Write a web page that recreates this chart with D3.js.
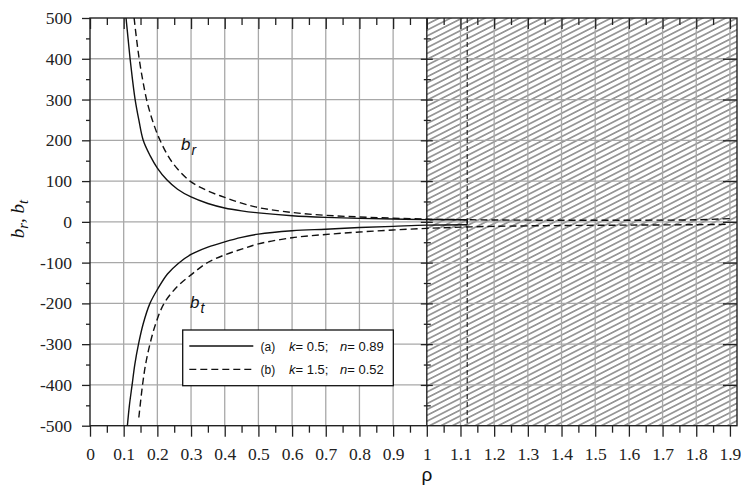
<!DOCTYPE html>
<html><head><meta charset="utf-8">
<script src="https://cdn.jsdelivr.net/npm/d3@7"></script>
<style>body{margin:0;background:#fff}svg{display:block}</style>
</head><body>
<script>
// ---- data ----
const xTickLabels = [0,0.1,0.2,0.3,0.4,0.5,0.6,0.7,0.8,0.9,1,1.1,1.2,1.3,1.4,1.5,1.6,1.7,1.8,1.9];
const yTickLabels = [-500,-400,-300,-200,-100,0,100,200,300,400,500];
const legendLabels = ["(a)", "(b)"];
const legendK = ["0.5", "1.5"];
const legendN = ["0.89", "0.52"];
const hatchStart = 1.0;
const limitRho = 1.12;
// series (a): k=0.5, n=0.89
const aBr = [[0.107,500],[0.113,450],[0.119,400],[0.126,350],[0.134,300],[0.145,250],[0.158,200],[0.178,163],[0.2,132],[0.228,103],[0.26,80],[0.3,61],[0.35,45],[0.4,34],[0.45,27],[0.5,22],[0.6,15],[0.7,11],[0.8,8.5],[0.9,7],[1.0,5.5],[1.12,5]];
const aBt = [[0.111,-500],[0.117,-450],[0.125,-400],[0.133,-350],[0.144,-300],[0.158,-250],[0.178,-200],[0.2,-166],[0.23,-128],[0.262,-102],[0.3,-80],[0.35,-62],[0.4,-49],[0.45,-38],[0.5,-30],[0.6,-22],[0.7,-18],[0.8,-14],[0.9,-11],[1.0,-8],[1.12,-7]];
// series (b): k=1.5, n=0.52
const bBr = [[0.131,500],[0.138,450],[0.146,400],[0.156,350],[0.168,300],[0.185,250],[0.208,200],[0.245,145],[0.297,100],[0.35,76],[0.4,60],[0.45,46],[0.5,35],[0.6,23],[0.7,16],[0.8,12],[0.9,9],[1.0,7],[1.1,5.5],[1.2,4.5],[1.4,4],[1.6,4],[1.8,5],[1.9,8]];
const bBt = [[0.145,-480],[0.156,-400],[0.165,-350],[0.178,-300],[0.195,-250],[0.22,-200],[0.26,-158],[0.3,-130],[0.345,-102],[0.4,-81],[0.45,-67],[0.5,-54],[0.6,-39],[0.7,-31],[0.8,-25],[0.9,-20],[1.0,-16],[1.1,-13],[1.2,-11],[1.4,-9],[1.6,-8],[1.8,-7],[1.9,-6]];

// ---- layout ----
const W = 741, H = 489;
const m = {left: 90, top: 18, right: 4, bottom: 63.3};
const iw = W - m.left - m.right, ih = H - m.top - m.bottom;
const SERIF = "Liberation Serif";
const SANS = "Liberation Sans";
const svg = d3.select("body").append("svg").attr("width", W).attr("height", H);
const x = d3.scaleLinear().domain([0, 1.921]).range([0, iw]);
const y = d3.scaleLinear().domain([-500, 500]).range([ih, 0]);
const g = svg.append("g").attr("transform", `translate(${m.left},${m.top})`);

const defs = svg.append("defs");
const pat = defs.append("pattern").attr("id","hatch").attr("patternUnits","userSpaceOnUse")
  .attr("width", 12).attr("height", 5.2).attr("patternTransform","rotate(-27)");
pat.append("line").attr("x1",-1).attr("x2",13).attr("y1",2.6).attr("y2",2.6)
  .attr("stroke","#333").attr("stroke-width",0.9);
defs.append("clipPath").attr("id","clip").append("rect").attr("width", iw).attr("height", ih);

// hatched region
g.append("rect").attr("x", x(hatchStart)).attr("y", 0)
  .attr("width", iw - x(hatchStart)).attr("height", ih).attr("fill","url(#hatch)");

// grid
const gridX = xTickLabels.filter(v => v > 0 && v !== 1);
const gridY = yTickLabels.filter(v => v > -500 && v < 500);
g.append("g").selectAll("line").data(gridX).join("line")
  .attr("x1", d => x(d)).attr("x2", d => x(d)).attr("y1", 0).attr("y2", ih)
  .attr("stroke", "#a8a8a8").attr("stroke-width", 1.3);
g.append("g").selectAll("line").data(gridY).join("line")
  .attr("x1", 0).attr("x2", iw).attr("y1", d => y(d)).attr("y2", d => y(d))
  .attr("stroke", "#a8a8a8").attr("stroke-width", 1.3);

// minor tick values
const xMinor = d3.range(1, 39, 2).map(i => +(i * 0.05).toFixed(2));
const yMinor = d3.range(-9, 10, 2).map(i => i * 50);

function styleAxis(sel) {
  sel.attr("font-family", null).attr("font-size", null);
  sel.style("font-family", SERIF).style("font-size", "17.5px");
  sel.select(".domain").remove();
  sel.selectAll(".tick line").attr("stroke", "#222").attr("stroke-width", 1.3);
  sel.selectAll("text").style("font-family", SERIF).style("font-size", "17.5px").attr("fill", "#222");
}
const fmt = d => String(+d.toFixed(1));

// bottom axis
g.append("g").attr("transform", `translate(0,${ih})`)
  .call(d3.axisBottom(x).tickValues(xTickLabels).tickSize(11).tickPadding(11).tickFormat(fmt)).call(styleAxis);
g.append("g").attr("transform", `translate(0,${ih})`)
  .call(d3.axisBottom(x).tickValues(xMinor).tickSize(7).tickFormat("")).call(styleAxis);
// top axis (inward)
g.append("g").call(d3.axisTop(x).tickValues(xTickLabels).tickSize(-11).tickFormat("")).call(styleAxis);
g.append("g").call(d3.axisTop(x).tickValues(xMinor).tickSize(-7).tickFormat("")).call(styleAxis);
// left axis
g.append("g").call(d3.axisLeft(y).tickValues(yTickLabels).tickSize(8).tickPadding(10).tickFormat(d => String(d))).call(styleAxis);
g.append("g").call(d3.axisLeft(y).tickValues(yMinor).tickSize(4).tickFormat("")).call(styleAxis);
// right edge (inward, major only)
g.append("g").attr("transform", `translate(${iw},0)`)
  .call(d3.axisRight(y).tickValues(gridY).tickSize(-14).tickFormat("")).call(styleAxis);
// axis at rho = 1 (crossing ticks)
const midAx = g.append("g").attr("transform", `translate(${x(hatchStart)},0)`);
midAx.append("g").attr("transform","translate(-6,0)")
  .call(d3.axisRight(y).tickValues(gridY).tickSize(12).tickFormat("")).call(styleAxis);
midAx.append("g").attr("transform","translate(-3,0)")
  .call(d3.axisRight(y).tickValues(yMinor).tickSize(7).tickFormat("")).call(styleAxis);
midAx.append("line").attr("y1",0).attr("y2",ih).attr("stroke","#222").attr("stroke-width",1.4);

// frame
g.append("rect").attr("width", iw).attr("height", ih).attr("fill","none")
  .attr("stroke","#222").attr("stroke-width",1.4);

// limit line
g.append("line").attr("x1", x(limitRho)).attr("x2", x(limitRho)).attr("y1", 0).attr("y2", ih)
  .attr("stroke","#222").attr("stroke-width",1.2).attr("stroke-dasharray","5,3");

// curves
const line = d3.line().x(d => x(d[0])).y(d => y(d[1])).curve(d3.curveCatmullRom.alpha(0.5));
const cg = g.append("g").attr("clip-path","url(#clip)");
[[aBr,null],[aBt,null],[bBr,"7,4"],[bBt,"7,4"]].forEach(([data, dash]) => {
  cg.append("path").datum(data).attr("d", line).attr("fill","none")
    .attr("stroke","#111").attr("stroke-width",1.4).attr("stroke-dasharray", dash);
});
// closing segment of (a) at the limit
cg.append("line").attr("x1", x(limitRho)).attr("x2", x(limitRho))
  .attr("y1", y(aBr[aBr.length-1][1])).attr("y2", y(aBt[aBt.length-1][1]))
  .attr("stroke","#111").attr("stroke-width",1.4);

// curve labels
function subLabel(px, py, main, sub) {
  const t = svg.append("text").attr("x", px).attr("y", py)
    .style("font-family", SANS).style("font-style","italic")
    .style("font-size", "17px").attr("fill","#111");
  t.append("tspan").text(main);
  t.append("tspan").attr("dx", 1).attr("dy", 5).style("font-size", "14px").text(sub);
}
subLabel(181, 150, "b", "r");
subLabel(190, 308, "b", "t");

// y label
const yl = svg.append("text").attr("transform","translate(24,219) rotate(-90)")
  .attr("text-anchor","middle").style("font-family", SERIF)
  .style("font-style","italic").style("font-size", "19px").attr("fill","#111");
yl.append("tspan").text("b");
yl.append("tspan").attr("dy", 4).style("font-size", "15px").text("r");
yl.append("tspan").attr("dy", -4).text(",   b");
yl.append("tspan").attr("dy", 4).style("font-size", "15px").text("t");

// x label
svg.append("text").attr("x", m.left + x(1)).attr("y", 481).attr("text-anchor","middle")
  .style("font-family", SANS).style("font-size", "19px").attr("fill","#111").text("ρ");

// legend
const lg = svg.append("g");
lg.append("rect").attr("x", 182.7).attr("y", 330).attr("width", 210.6).attr("height", 55.7)
  .attr("fill","#fff").attr("stroke","#111").attr("stroke-width",1.3);
[0,1].forEach(i => {
  const ly = 346 + i * 23.3;
  lg.append("line").attr("x1", 189.3).attr("x2", 253.3).attr("y1", ly).attr("y2", ly)
    .attr("stroke","#111").attr("stroke-width",1.3).attr("stroke-dasharray", i ? "7,4" : null);
  const t = lg.append("text").attr("x", 260.5).attr("y", ly + 4.5)
    .style("font-family", SANS).style("font-size", "13px").attr("fill","#111");
  t.append("tspan").style("font-size", "12px").text(legendLabels[i]);
  t.append("tspan").attr("x", 289).style("font-style","italic").text("k");
  t.append("tspan").text("= " + legendK[i] + ";");
  t.append("tspan").attr("x", 340).style("font-style","italic").text("n");
  t.append("tspan").text("= " + legendN[i]);
});
</script>
</body></html>
